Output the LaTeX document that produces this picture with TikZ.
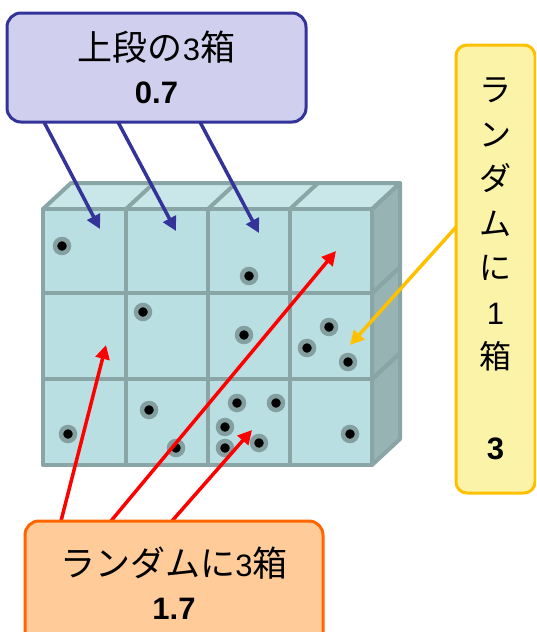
\documentclass[tikz,border=0pt]{standalone}
\usepackage{fontspec}
\setmainfont{Liberation Sans}
\newfontfamily\jp{Noto Sans CJK JP}
\usetikzlibrary{arrows.meta}

\definecolor{frontc}{HTML}{BADFE3}
\definecolor{topc}{HTML}{C9E6E9}
\definecolor{sidec}{HTML}{97B3B3}
\definecolor{edgec}{HTML}{8AA5A5}
\definecolor{ringc}{HTML}{849F9F}
\definecolor{bluec}{HTML}{333399}
\definecolor{goldc}{HTML}{FFC000}
\definecolor{orangec}{HTML}{FF6600}
\definecolor{lavender}{HTML}{D0D0EE}
\definecolor{paleyellow}{HTML}{FBF4A8}
\definecolor{peach}{HTML}{FFCC99}

% Japanese text in the callouts
\newcommand\jpline[1]{{\jp\fontsize{35}{43}\selectfont #1}}
\newcommand\jpcol[1]{{\jp\fontsize{32}{44.5}\selectfont #1}}

\tikzset{
  face/.style={draw=edgec, line width=4pt, line join=round},
  dot/.style={circle, fill=black, draw=ringc, line width=4.5pt, inner sep=0pt, minimum size=14pt},
  pointer/.style={line width=3.5pt, -{Triangle[length=14pt,width=14pt]}},
  callout/.style={rounded corners=14pt, line width=3pt, align=center, inner sep=0pt},
}

\begin{document}
\begin{tikzpicture}[x=1pt,y=-1pt]
\clip (0,0) rectangle (536,632);

% stacked layers of the box grid, drawn bottom layer first
\foreach \yt/\yb in {379/465, 293/379, 209/293}{
  \fill[sidec] (372,\yt) -- (400,\yt-26) -- (400,\yb-26) -- (372,\yb) -- cycle;
  \draw[face] (372,\yt) -- (400,\yt-26) -- (400,\yb-26) -- (372,\yb) -- cycle;
  \fill[topc] (43,\yt) -- (71,\yt-26) -- (400,\yt-26) -- (372,\yt) -- cycle;
  \draw[face] (43,\yt) -- (71,\yt-26) -- (400,\yt-26) -- (372,\yt) -- cycle;
  \foreach \xa in {126,208,290}{
    \draw[face] (\xa,\yt) -- (\xa+28,\yt-26);
  }
  \foreach \xl/\xr in {43/126,126/208,208/290,290/372}{
    \filldraw[face, fill=frontc] (\xl,\yt) rectangle (\xr,\yb);
  }
}

% particles
\node[dot] (p1) at (62,246) {};
\node[dot] (p2) at (249,276) {};
\node[dot] (p3) at (143,312) {};
\node[dot] (p4) at (244,335) {};
\node[dot] (p5) at (329,327) {};
\node[dot] (p6) at (307,348) {};
\node[dot] (p7) at (348,362) {};
\node[dot] (p8) at (68,434) {};
\node[dot] (p9) at (149,410) {};
\node[dot] (p10) at (176,448) {};
\node[dot] (p11) at (237,403) {};
\node[dot] (p12) at (276,403) {};
\node[dot] (p13) at (225,427) {};
\node[dot] (p14) at (225,448) {};
\node[dot] (p15) at (259,443) {};
\node[dot] (p16) at (350,434) {};

% arrow end points
\coordinate (b1s) at (44,122);
\coordinate (b2s) at (118,122);
\coordinate (b3s) at (200,122);
\coordinate (b1e) at (100,229);
\coordinate (b2e) at (176,231);
\coordinate (b3e) at (259,233);
\coordinate (ys) at (457,226);
\coordinate (ye) at (350,345);
\coordinate (r1s) at (61,521);
\coordinate (r2s) at (111,521);
\coordinate (r3s) at (172,521);
\coordinate (r1e) at (106,345);
\coordinate (r2e) at (336,251);
\coordinate (r3e) at (252,430);

\draw[pointer, bluec] (b1s) -- (b1e);
\draw[pointer, bluec] (b2s) -- (b2e);
\draw[pointer, bluec] (b3s) -- (b3e);
\draw[pointer, goldc] (ys) -- (ye);
\draw[pointer, red] (r1s) -- (r1e);
\draw[pointer, red] (r2s) -- (r2e);
\draw[pointer, red] (r3s) -- (r3e);

% callouts
\node[callout, draw=bluec, fill=lavender, minimum width=299pt, minimum height=109pt,
      font=\fontsize{31}{43}\selectfont]
  (upper) at (156.5,67.5)
  {\jpline{上段の}3\jpline{箱}\\\bfseries 0.7};

\node[callout, rounded corners=11pt, draw=goldc, fill=paleyellow, minimum width=79pt, minimum height=448pt,
      font=\fontsize{31}{44.5}\selectfont]
  (single) at (495.5,269)
  {\jpcol{ラ}\\\jpcol{ン}\\\jpcol{ダ}\\\jpcol{ム}\\\jpcol{に}\\1\\\jpcol{箱}\\[46.5pt]\bfseries 3};

\node[callout, draw=orangec, fill=peach, minimum width=298pt, minimum height=125pt,
      font=\fontsize{31}{43}\selectfont]
  (random) at (174,583.5)
  {\jpline{ランダムに}3\jpline{箱}\\\bfseries 1.7};
\end{tikzpicture}
\end{document}
